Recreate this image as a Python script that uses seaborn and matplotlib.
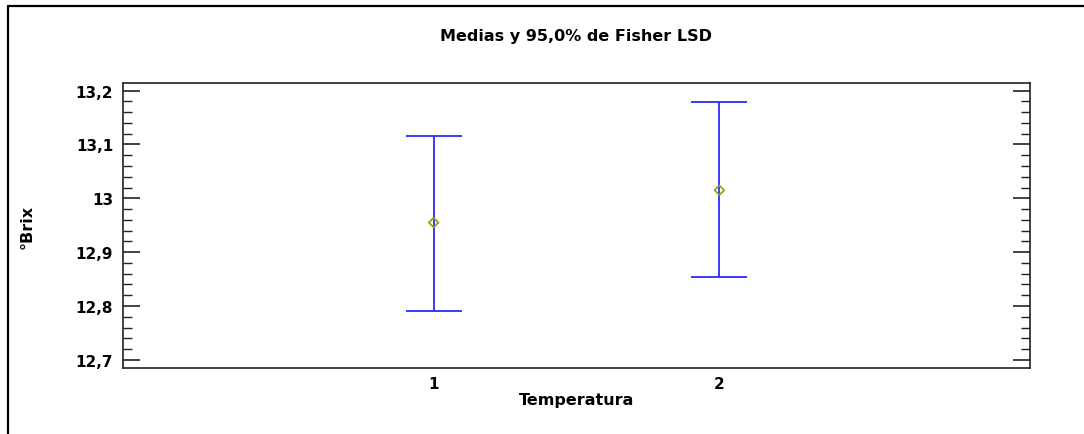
import matplotlib
matplotlib.use("Agg")
import matplotlib.pyplot as plt
from matplotlib.lines import Line2D
from matplotlib.ticker import MultipleLocator, FuncFormatter
import seaborn as sns
import pandas as pd
import numpy as np

# ---- data ----
categories = ["1", "2"]
means = [12.955, 13.015]
lower = [12.791, 12.853]
upper = [13.116, 13.178]

title = "Medias y 95,0% de Fisher LSD"
xlabel = "Temperatura"
ylabel = "°Brix"

sns.set_theme(style="white")
plt.rcParams["font.family"] = ["DejaVu Sans"]
plt.rcParams["font.weight"] = "bold"

df = pd.DataFrame({"Temperatura": [1, 2], "mean": means, "low": lower, "high": upper})

fig = plt.figure(figsize=(10.84, 4.35), dpi=100)
ax = fig.add_axes([123 / 1084, 1 - 369 / 435, (1030 - 123) / 1084, (369 - 84) / 435])

yerr = np.vstack([df["mean"] - df["low"], df["high"] - df["mean"]])
ax.errorbar(df["Temperatura"], df["mean"], yerr=yerr, fmt="none",
            ecolor="#2a2aff", elinewidth=1.3, capsize=20, capthick=1.3, zorder=2)
sns.scatterplot(data=df, x="Temperatura", y="mean", marker="D", s=24,
                facecolor="none", edgecolor="#9a9a00", linewidth=1.2, ax=ax, zorder=3)

ax.set_xlim(-0.087, 3.087)
ax.set_ylim(12.685, 13.214)
ax.set_xticks([1, 2])
ax.set_xticklabels(categories)
ax.yaxis.set_major_locator(MultipleLocator(0.1))
ax.yaxis.set_minor_locator(MultipleLocator(0.02))

def fmt(v, pos):
    s = f"{v:.1f}"
    if s.endswith(".0"):
        s = s[:-2]
    return s.replace(".", ",")
ax.yaxis.set_major_formatter(FuncFormatter(fmt))

ax.tick_params(axis="y", which="major", direction="in", length=12.5, width=1.2,
               left=True, right=True, color="#222222", labelsize=11, pad=7)
ax.tick_params(axis="y", which="minor", direction="in", length=6.5, width=1.0,
               left=True, right=True, color="#222222")
ax.tick_params(axis="x", which="both", length=0, labelsize=11, pad=6)
for lab in ax.get_xticklabels() + ax.get_yticklabels():
    lab.set_fontweight("bold")
    lab.set_color("black")

for sp in ax.spines.values():
    sp.set_visible(True)
    sp.set_color("#222222")
    sp.set_linewidth(1.2)

ax.set_title(title, fontsize=11.5, fontweight="bold", pad=31, color="black")
ax.set_xlabel(xlabel, fontsize=11.5, fontweight="bold", color="black")
ax.set_ylabel(ylabel, fontsize=11.5, fontweight="bold", color="black")
ax.xaxis.set_label_coords(0.5, -0.085)
ax.yaxis.set_label_coords(-0.097, 0.5)

# outer frame (top and left lines)
fig.add_artist(Line2D([8 / 1084, 1.0], [1 - 7 / 435, 1 - 7 / 435],
                      transform=fig.transFigure, color="black", lw=1.6))
fig.add_artist(Line2D([8 / 1084, 8 / 1084], [0.0, 1 - 7 / 435],
                      transform=fig.transFigure, color="black", lw=1.6))

fig.savefig("out.png", dpi=100)
